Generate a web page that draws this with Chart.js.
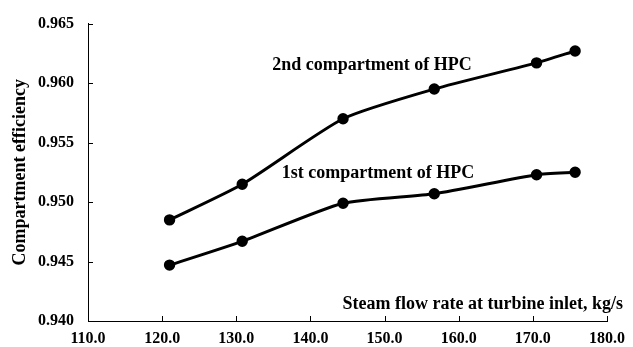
<!DOCTYPE html>
<html>
<head>
<meta charset="utf-8">
<script src="https://cdn.jsdelivr.net/npm/chart.js@4"></script>
<style>
  html, body { margin: 0; padding: 0; background: #fff; }
  #wrap { width: 633px; height: 347px; }
</style>
</head>
<body>
<div id="wrap"><canvas id="myChart" width="633" height="347"></canvas></div>
<script>
"use strict";

// steam flow rate, kg/s
let flowRate = [121.0, 130.8, 144.4, 156.7, 170.5, 175.7];
// compartment efficiency
let eff2nd = [0.9485, 0.9515, 0.957, 0.9595, 0.9617, 0.9627];
let eff1st = [0.9447, 0.9467, 0.9499, 0.9507, 0.9523, 0.9525];

let seriesNames = ["2nd compartment of HPC", "1st compartment of HPC"];
let xTitle = "Steam flow rate at turbine inlet, kg/s";
let yTitle = "Compartment efficiency";

const serif = "'Liberation Serif', 'Times New Roman', serif";

function toPoints(xs, ys) {
  return xs.map((x, i) => ({ x: x, y: ys[i] }));
}

// small inward tick marks, series labels and the x title sitting above the axis
const extras = {
  id: "extras",
  afterDraw(chart) {
    const c = chart.ctx;
    const xs = chart.scales.x;
    const ys = chart.scales.y;
    const area = chart.chartArea;
    c.save();
    c.strokeStyle = "#000";
    c.lineWidth = 1;
    xs.ticks.forEach((t) => {
      const px = Math.round(xs.getPixelForValue(t.value)) + 0.5;
      c.beginPath();
      c.moveTo(px, area.bottom);
      c.lineTo(px, area.bottom - 5);
      c.stroke();
    });
    ys.ticks.forEach((t) => {
      const py = Math.round(ys.getPixelForValue(t.value)) + 0.5;
      c.beginPath();
      c.moveTo(area.left, py);
      c.lineTo(area.left + 5, py);
      c.stroke();
    });

    c.fillStyle = "#000";
    c.font = "bold 18px " + serif;
    c.textAlign = "center";
    c.textBaseline = "middle";
    c.fillText(seriesNames[0], xs.getPixelForValue(148.3), ys.getPixelForValue(0.9615));
    c.fillText(seriesNames[1], xs.getPixelForValue(149.1), ys.getPixelForValue(0.9524));

    c.font = "bold 18px " + serif;
    c.textAlign = "right";
    c.fillText(xTitle, area.right + 16, area.bottom - 17);
    c.restore();
  },
};

const ctx = document.getElementById("myChart");

new Chart(ctx, {
  type: "scatter",
  data: {
    datasets: [
      {
        label: seriesNames[0],
        data: toPoints(flowRate, eff2nd),
        showLine: true,
        borderColor: "#000",
        backgroundColor: "#000",
        borderWidth: 3,
        pointRadius: 4.2,
        tension: 0.2,
      },
      {
        label: seriesNames[1],
        data: toPoints(flowRate, eff1st),
        showLine: true,
        borderColor: "#000",
        backgroundColor: "#000",
        borderWidth: 3,
        pointRadius: 4.2,
        tension: 0.2,
      },
    ],
  },
  options: {
    responsive: false,
    animation: false,
    layout: { padding: { top: 17, right: 26, left: 0, bottom: 0 } },
    plugins: {
      legend: { display: false },
      tooltip: { enabled: false },
    },
    scales: {
      x: {
        type: "linear",
        min: 110,
        max: 180,
        grid: { display: false, drawTicks: false },
        border: { display: true, color: "#000", width: 1 },
        ticks: {
          stepSize: 10,
          padding: 8,
          color: "#000",
          font: { family: serif, size: 16, weight: "bold" },
          callback: (v) => Number(v).toFixed(1),
          maxRotation: 0,
        },
        afterFit(scale) {
          scale.height = 26;
        },
      },
      y: {
        min: 0.94,
        max: 0.965,
        grid: { display: false, drawTicks: false },
        border: { display: true, color: "#000", width: 1 },
        ticks: {
          stepSize: 0.005,
          padding: 14,
          color: "#000",
          font: { family: serif, size: 16, weight: "bold" },
          callback: (v) => Number(v).toFixed(3),
        },
        title: {
          display: true,
          text: yTitle,
          color: "#000",
          font: { family: serif, size: 18, weight: "bold" },
          padding: { top: 10, bottom: 0 },
        },
        afterFit(scale) {
          scale.width = 88;
        },
      },
    },
  },
  plugins: [extras],
});
</script>
</body>
</html>
